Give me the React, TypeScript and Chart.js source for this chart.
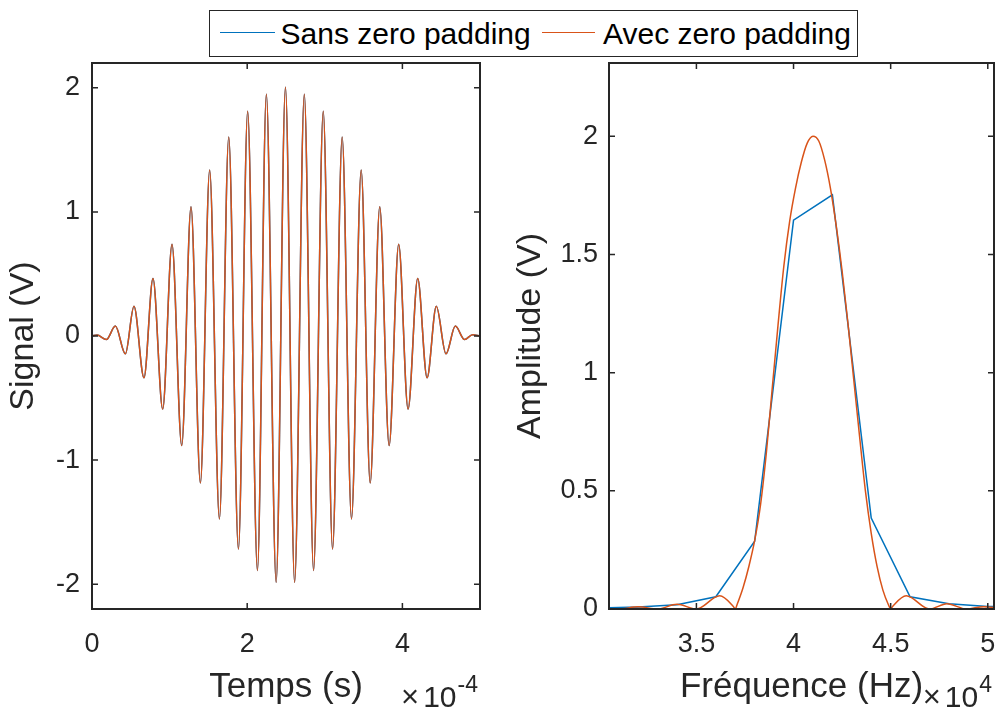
import React, { useEffect, useRef } from "react";
import { Chart, registerables } from "chart.js";

Chart.register(...registerables);

const BLUE = "#0072BD";
const ORANGE = "#D95319";
const AXIS = "#262626";
const FONT = "'Liberation Sans', Arial, Helvetica, sans-serif";

// ---- Left panel: time in units of 1e-4 s, signal in V (extrema)
const timeE4 = [
  0, 0.065, 0.185, 0.301, 0.43, 0.541, 0.67, 0.786, 0.911, 1.031, 1.156, 1.276, 1.397,
  1.516, 1.642, 1.762, 1.887, 2.006, 2.132, 2.247, 2.373, 2.493, 2.611, 2.736, 2.855,
  2.98, 3.1, 3.224, 3.344, 3.469, 3.585, 3.708, 3.829, 3.952, 4.073, 4.197, 4.318,
  4.437, 4.562, 4.682, 4.801, 4.904, 5.0,
];
const signalV = [
  0, 0.008, -0.029, 0.08, -0.144, 0.239, -0.336, 0.463, -0.589, 0.739, -0.883, 1.041,
  -1.185, 1.337, -1.475, 1.604, -1.717, 1.811, -1.889, 1.949, -1.984, 2.004, -1.984,
  1.949, -1.889, 1.811, -1.717, 1.604, -1.475, 1.337, -1.185, 1.041, -0.883, 0.739,
  -0.589, 0.463, -0.336, 0.239, -0.144, 0.08, -0.029, 0.01, 0,
];

// ---- Right panel: frequency in units of 1e4 Hz, amplitude in V
const freqBins = [3.0, 3.2, 3.4, 3.6, 3.8, 4.0, 4.2, 4.4, 4.6, 4.8, 5.0, 5.2];
const ampNoPad = [0.005, 0.008, 0.018, 0.052, 0.287, 1.645, 1.752, 0.385, 0.052, 0.022, 0.011, 0.006];

const freqPad = [
  3.0, 3.1, 3.2, 3.3, 3.4, 3.5, 3.62, 3.69, 3.7, 3.71, 3.74, 3.77, 3.8, 3.83, 3.86, 3.89,
  3.92, 3.95, 3.98, 4.01, 4.04, 4.07, 4.1, 4.13, 4.16, 4.19, 4.22, 4.25, 4.28, 4.31, 4.34,
  4.37, 4.4, 4.43, 4.46, 4.49, 4.5, 4.51, 4.58, 4.7, 4.79, 4.89, 4.98, 5.08,
];
const ampPad = [
  0.004, 0, 0.009, 0, 0.02, 0, 0.056, 0.011, 0, 0.02, 0.09, 0.18, 0.29, 0.44, 0.66, 0.93,
  1.2, 1.45, 1.64, 1.78, 1.89, 1.97, 2.0, 1.98, 1.9, 1.78, 1.62, 1.43, 1.21, 0.97, 0.73,
  0.5, 0.32, 0.18, 0.08, 0.015, 0, 0.011, 0.056, 0, 0.022, 0, 0.01, 0,
];

// ---- Tick labels
const timeTicks = [0, 2, 4];
const signalTicks = [-2, -1, 0, 1, 2];
const freqTicks = [3.5, 4, 4.5, 5];
const ampTicks = [0, 0.5, 1, 1.5, 2];

const seriesNames = ["Sans zero padding", "Avec zero padding"];

const framePlugin = {
  id: "frame",
  afterDraw(chart: any, _args: any, opts: any) {
    const { ctx, chartArea, scales } = chart;
    const { left, right, top, bottom } = chartArea;
    ctx.save();
    ctx.strokeStyle = AXIS;
    ctx.lineWidth = 2;
    ctx.strokeRect(left, top, right - left, bottom - top);
    const L = 6;
    ctx.lineWidth = 1.5;
    ctx.beginPath();
    for (const t of scales.x.ticks) {
      const px = scales.x.getPixelForValue(t.value);
      ctx.moveTo(px, bottom);
      ctx.lineTo(px, bottom - L);
      ctx.moveTo(px, top);
      ctx.lineTo(px, top + L);
    }
    for (const t of scales.y.ticks) {
      const py = scales.y.getPixelForValue(t.value);
      ctx.moveTo(left, py);
      ctx.lineTo(left + L, py);
      ctx.moveTo(right, py);
      ctx.lineTo(right - L, py);
    }
    ctx.stroke();

    // exponent label "×10^n"
    const exp = opts.exponent as string;
    ctx.fillStyle = AXIS;
    ctx.textBaseline = "alphabetic";
    ctx.textAlign = "left";
    const fTimes = `31px ${FONT}`;
    const fBase = `30px ${FONT}`;
    const fExp = `23px ${FONT}`;
    ctx.font = fTimes;
    const wT = ctx.measureText("×").width;
    ctx.font = fBase;
    const wB = ctx.measureText("10").width;
    ctx.font = fExp;
    const wE = ctx.measureText(exp).width;
    const total = wT + 4 + wB + 1 + wE;
    let x = right - 2 - total;
    const base = opts.baseY as number;
    ctx.font = fTimes;
    ctx.fillText("×", x, base);
    x += wT + 4;
    ctx.font = fBase;
    ctx.fillText("10", x, base);
    x += wB + 1;
    ctx.font = fExp;
    ctx.fillText(exp, x, base - 15);
    ctx.restore();
  },
};

function xyOf(xs: number[], ys: number[]) {
  return xs.map((x, i) => ({ x, y: ys[i] }));
}

function makeScales(o: {
  xMin: number; xMax: number; xTicks: number[]; xTitle: string;
  yMin: number; yMax: number; yTicks: number[]; yTitle: string;
  yWidth: number; yTitlePad: number; yTickPad: number;
}) {
  return {
    x: {
      type: "linear",
      min: o.xMin,
      max: o.xMax,
      grid: { display: false, drawTicks: false },
      border: { display: false },
      afterBuildTicks: (s: any) => {
        s.ticks = o.xTicks.map((v) => ({ value: v }));
      },
      afterFit: (s: any) => {
        s.height = 102;
        s.paddingLeft = 0;
        s.paddingRight = 0;
      },
      ticks: {
        padding: 19,
        color: AXIS,
        autoSkip: false,
        maxRotation: 0,
        font: { family: FONT, size: 27 },
        callback: (v: any) => String(v),
      },
      title: {
        display: true,
        text: o.xTitle,
        color: AXIS,
        font: { family: FONT, size: 35 },
        padding: { top: 0, bottom: 3 },
      },
    },
    y: {
      type: "linear",
      min: o.yMin,
      max: o.yMax,
      grid: { display: false, drawTicks: false },
      border: { display: false },
      afterBuildTicks: (s: any) => {
        s.ticks = o.yTicks.map((v) => ({ value: v }));
      },
      afterFit: (s: any) => {
        s.width = o.yWidth;
        s.paddingTop = 0;
        s.paddingBottom = 0;
      },
      ticks: {
        padding: o.yTickPad,
        color: AXIS,
        autoSkip: false,
        font: { family: FONT, size: 27 },
        callback: (v: any) => String(v),
      },
      title: {
        display: true,
        text: o.yTitle,
        color: AXIS,
        font: { family: FONT, size: 34 },
        padding: { top: o.yTitlePad, bottom: 0 },
      },
    },
  };
}

function lineDs(label: string, data: any[], color: string, smooth: boolean, order: number) {
  return {
    label,
    data,
    order,
    borderColor: color,
    backgroundColor: color,
    borderWidth: 1.5,
    pointRadius: 0,
    fill: false,
    tension: 0,
    cubicInterpolationMode: smooth ? "monotone" : "default",
  };
}

function Legend() {
  const text: React.CSSProperties = {
    position: "absolute",
    top: 7.6,
    lineHeight: "30px",
    whiteSpace: "nowrap",
  };
  return (
    <div
      style={{
        position: "absolute",
        left: 209,
        top: 10,
        width: 649,
        height: 47,
        boxSizing: "border-box",
        border: "1px solid #262626",
        background: "#fff",
        fontFamily: FONT,
        fontSize: 30,
        color: "#000",
      }}
    >
      <div style={{ position: "absolute", left: 10, top: 20.5, width: 55, height: 1.5, background: BLUE }} />
      <span style={{ ...text, left: 70.5 }}>{seriesNames[0]}</span>
      <div style={{ position: "absolute", left: 332, top: 20.5, width: 53, height: 1.5, background: ORANGE }} />
      <span style={{ ...text, left: 393 }}>{seriesNames[1]}</span>
    </div>
  );
}

export default function App() {
  const leftRef = useRef<HTMLCanvasElement>(null);
  const rightRef = useRef<HTMLCanvasElement>(null);

  useEffect(() => {
    const sig = xyOf(timeE4, signalV);
    const left = new Chart(leftRef.current as HTMLCanvasElement, {
      type: "line",
      data: {
        datasets: [
          lineDs(seriesNames[0], sig, BLUE, true, 2),
          lineDs(seriesNames[1], sig, ORANGE, true, 1),
        ] as any,
      },
      options: {
        animation: false,
        responsive: false,
        devicePixelRatio: 1,
        layout: { padding: { top: 63, right: 20, left: 0, bottom: 0 } },
        plugins: {
          legend: { display: false },
          tooltip: { enabled: false },
          frame: { exponent: "-4", baseY: 707 },
        } as any,
        scales: makeScales({
          xMin: 0, xMax: 5, xTicks: timeTicks, xTitle: "Temps (s)",
          yMin: -2.2, yMax: 2.2, yTicks: signalTicks, yTitle: "Signal (V)",
          yWidth: 92, yTitlePad: 3, yTickPad: 12,
        }) as any,
      },
      plugins: [framePlugin],
    });

    const right = new Chart(rightRef.current as HTMLCanvasElement, {
      type: "line",
      data: {
        datasets: [
          lineDs(seriesNames[0], xyOf(freqBins, ampNoPad), BLUE, false, 2),
          lineDs(seriesNames[1], xyOf(freqPad, ampPad), ORANGE, true, 1),
        ] as any,
      },
      options: {
        animation: false,
        responsive: false,
        devicePixelRatio: 1,
        layout: { padding: { top: 63, right: 3, left: 0, bottom: 0 } },
        plugins: {
          legend: { display: false },
          tooltip: { enabled: false },
          frame: { exponent: "4", baseY: 707 },
        } as any,
        scales: makeScales({
          xMin: 3.05, xMax: 5.032, xTicks: freqTicks, xTitle: "Fréquence (Hz)",
          yMin: 0, yMax: 2.31, yTicks: ampTicks, yTitle: "Amplitude (V)",
          yWidth: 109, yTitlePad: 10, yTickPad: 11,
        }) as any,
      },
      plugins: [framePlugin],
    });

    return () => {
      left.destroy();
      right.destroy();
    };
  }, []);

  return (
    <div
      style={{
        position: "fixed",
        left: 0,
        top: 0,
        width: 997,
        height: 711,
        background: "#fff",
        overflow: "hidden",
      }}
    >
      <canvas ref={leftRef} width={500} height={711} style={{ position: "absolute", left: 0, top: 0 }} />
      <canvas ref={rightRef} width={497} height={711} style={{ position: "absolute", left: 500, top: 0 }} />
      <Legend />
    </div>
  );
}
